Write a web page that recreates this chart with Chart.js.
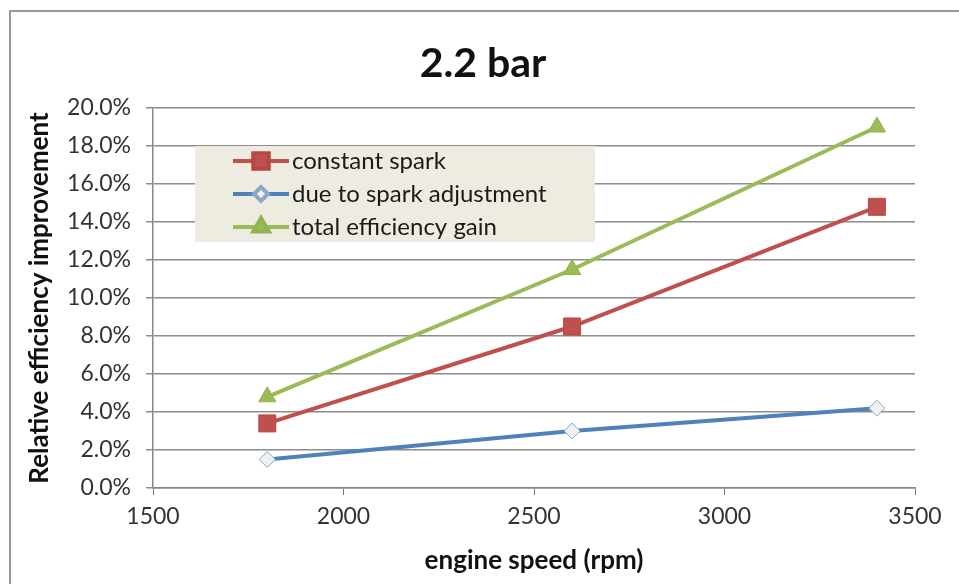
<!DOCTYPE html>
<html>
<head>
<meta charset="utf-8">
<script src="https://cdn.jsdelivr.net/npm/chart.js@4"></script>
<style>
  html, body { margin: 0; padding: 0; background: #fff; }
  #wrap { width: 959px; height: 584px; position: relative; }
</style>
</head>
<body>
<div id="wrap"><canvas id="c" width="959" height="584"></canvas></div>
<script>
// --- data ---
const rpm = [1800, 2600, 3400];
const constantSpark = [3.4, 8.5, 14.8];
const sparkAdjust = [1.5, 3.0, 4.2];
const totalGain = [4.8, 11.5, 19.0];
const xTicks = [1500, 2000, 2500, 3000, 3500];
const yTicks = [0, 2, 4, 6, 8, 10, 12, 14, 16, 18, 20];

const FONT = "Lato, 'Open Sans', sans-serif";

function pts(ys) {
  return rpm.map((x, i) => ({ x: x, y: ys[i] }));
}

// frame + title + legend box drawn inside the plot
const decor = {
  id: "decor",
  beforeDraw(chart) {
    const ctx = chart.ctx;
    ctx.save();
    ctx.fillStyle = "#fff";
    ctx.fillRect(0, 0, chart.width, chart.height);
    ctx.strokeStyle = "#999";
    ctx.lineWidth = 2;
    ctx.strokeRect(10, 11, 1000, 1000);
    ctx.fillStyle = "#111";
    ctx.font = "bold 41px " + FONT;
    ctx.textAlign = "center";
    ctx.textBaseline = "middle";
    ctx.fillText("2.2 bar", 483, 64);
    ctx.restore();
  },
  afterDatasetsDraw(chart) {
    const ctx = chart.ctx;
    ctx.save();
    ctx.fillStyle = "#EEECE1";
    ctx.fillRect(195, 146, 400, 96);
    chart.data.datasets.forEach((ds, i) => {
      const y = 161 + i * 33;
      ctx.strokeStyle = ds.borderColor;
      ctx.lineWidth = 4;
      ctx.beginPath();
      ctx.moveTo(233, y);
      ctx.lineTo(289, y);
      ctx.stroke();
      ctx.fillStyle = ds.pointBackgroundColor;
      ctx.strokeStyle = ds.pointBorderColor;
      Chart.helpers.drawPoint(ctx, {
        pointStyle: ds.pointStyle,
        radius: ds.pointRadius - 1,
        rotation: 0,
        borderWidth: ds.pointBorderWidth
      }, 261, y);
      ctx.fillStyle = "#1a1a1a";
      ctx.font = "24px " + FONT;
      ctx.textAlign = "left";
      ctx.textBaseline = "middle";
      ctx.fillText(ds.label, 292, y);
    });
    ctx.restore();
  }
};

new Chart(document.getElementById("c"), {
  type: "line",
  data: {
    datasets: [
      {
        label: "constant spark",
        data: pts(constantSpark),
        borderColor: "#C0504D",
        borderWidth: 4,
        pointStyle: "rect",
        pointRadius: 12,
        pointBackgroundColor: "#C0504D",
        pointBorderColor: "#B84744",
        pointBorderWidth: 1
      },
      {
        label: "due to spark adjustment",
        data: pts(sparkAdjust),
        borderColor: "#4F81BD",
        borderWidth: 4,
        pointStyle: "rectRot",
        pointRadius: 8,
        pointBackgroundColor: "#EEF0F2",
        pointBorderColor: "#8FA7C7",
        pointBorderWidth: 1
      },
      {
        label: "total efficiency gain",
        data: pts(totalGain),
        borderColor: "#9BBB59",
        borderWidth: 4,
        pointStyle: "triangle",
        pointRadius: 10,
        pointBackgroundColor: "#9BBB59",
        pointBorderColor: "#93B353",
        pointBorderWidth: 1
      }
    ]
  },
  options: {
    responsive: false,
    animation: false,
    layout: { padding: { top: 108, right: 44, bottom: 0, left: 0 } },
    plugins: {
      legend: { display: false },
      title: { display: false },
      tooltip: { enabled: false }
    },
    scales: {
      x: {
        type: "linear",
        min: 1500,
        max: 3500,
        afterBuildTicks: (s) => { s.ticks = xTicks.map((v) => ({ value: v })); },
        afterFit: (s) => { s.height = 96; },
        grid: { drawOnChartArea: false, color: "#777", tickLength: 7 },
        border: { color: "#888", width: 1.5 },
        ticks: {
          color: "#333",
          font: { family: FONT, size: 23 },
          padding: 8,
          maxRotation: 0,
          callback: (v) => String(v)
        },
        title: {
          display: true,
          text: "engine speed (rpm)",
          color: "#111",
          font: { family: FONT, size: 26, weight: "bold" },
          padding: { top: 4, bottom: 8 }
        }
      },
      y: {
        min: 0,
        max: 20,
        afterBuildTicks: (s) => { s.ticks = yTicks.map((v) => ({ value: v })); },
        afterFit: (s) => { s.width = 153; },
        grid: { color: "#8c8c8c", lineWidth: 1.5, tickLength: 7 },
        border: { color: "#888", width: 1.5 },
        ticks: {
          color: "#333",
          font: { family: FONT, size: 23 },
          padding: 15,
          callback: (v) => v.toFixed(1) + "%"
        },
        title: {
          display: true,
          text: "Relative efficiency improvement",
          color: "#111",
          font: { family: FONT, size: 26, weight: "bold" },
          padding: { top: 24, bottom: 4 }
        }
      }
    }
  },
  plugins: [decor]
});
</script>
</body>
</html>
